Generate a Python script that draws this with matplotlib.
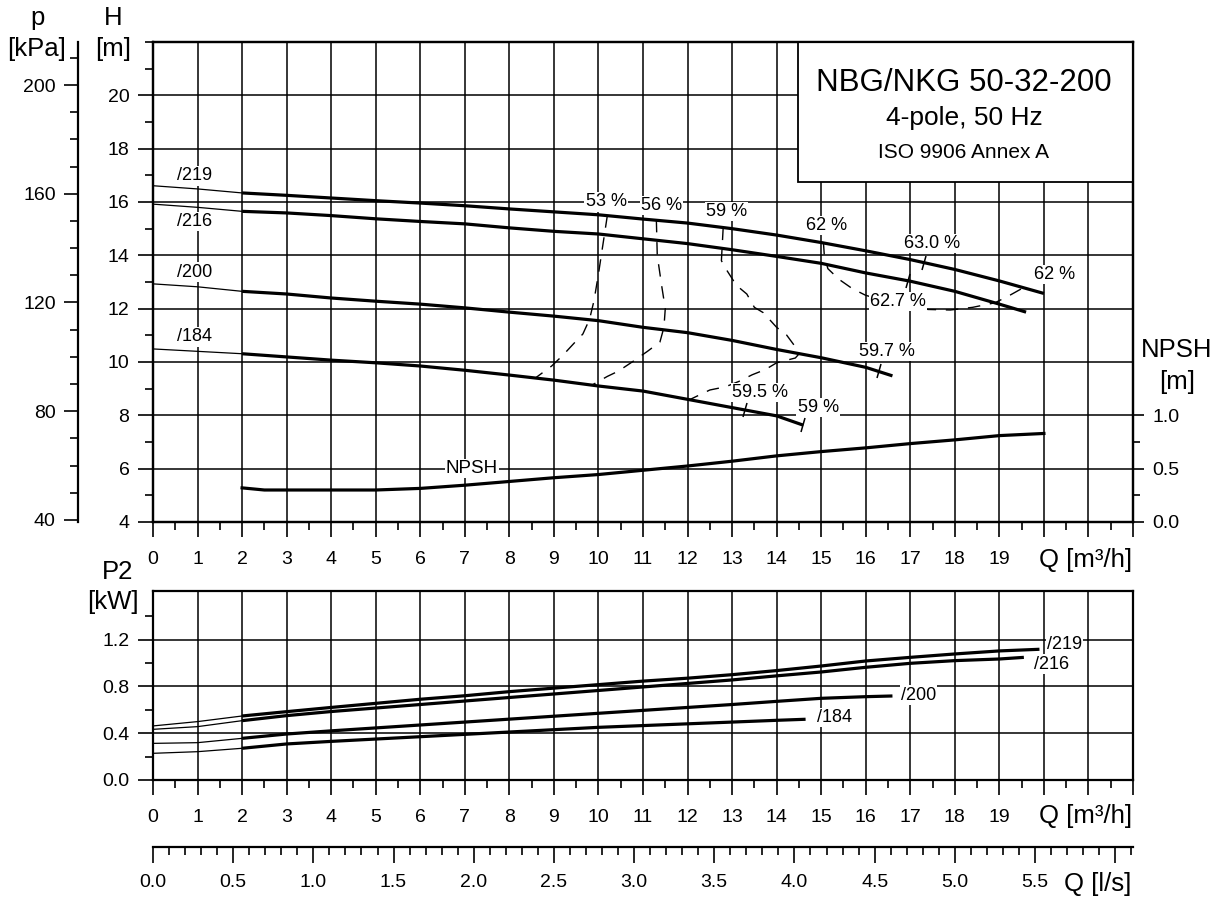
import numpy as np
import matplotlib
matplotlib.use("Agg")
import matplotlib.pyplot as plt
from matplotlib.ticker import FixedLocator, MultipleLocator, FuncFormatter, NullLocator
from matplotlib.patches import Rectangle
from matplotlib.markers import MarkerStyle
from matplotlib.transforms import Affine2D

plt.rcParams['font.family'] = ['Liberation Sans', 'DejaVu Sans']

# ---------------- data ----------------
# Head curves H [m] vs flow Q [m³/h] for the four impeller diameters
q_219 = [0, 1, 2, 3, 4, 5, 6, 7, 8, 9, 10, 11, 12, 13, 14, 15, 16, 17, 18, 19, 20]
h_219 = [16.61, 16.49, 16.34, 16.25, 16.15, 16.05, 15.96, 15.86, 15.74, 15.63, 15.52,
         15.36, 15.21, 15.0, 14.76, 14.48, 14.17, 13.84, 13.47, 13.04, 12.57]
q_216 = [0, 1, 2, 3, 4, 5, 6, 7, 8, 9, 10, 11, 12, 13, 14, 15, 16, 17, 18, 19, 19.6]
h_216 = [15.92, 15.8, 15.65, 15.59, 15.49, 15.37, 15.27, 15.18, 15.03, 14.9, 14.8,
         14.62, 14.44, 14.21, 13.96, 13.7, 13.34, 13.03, 12.65, 12.17, 11.87]
q_200 = [0, 1, 2, 3, 4, 5, 6, 7, 8, 9, 10, 11, 12, 13, 14, 15, 16, 16.6]
h_200 = [12.93, 12.82, 12.65, 12.55, 12.4, 12.28, 12.17, 12.03, 11.87, 11.72, 11.55,
         11.3, 11.1, 10.81, 10.47, 10.16, 9.8, 9.48]
q_184 = [0, 1, 2, 3, 4, 5, 6, 7, 8, 9, 10, 11, 12, 13, 14, 14.6]
h_184 = [10.49, 10.4, 10.31, 10.19, 10.07, 9.97, 9.85, 9.69, 9.51, 9.32, 9.1,
         8.91, 8.6, 8.29, 7.98, 7.63]
head_labels = ['/219', '/216', '/200', '/184']

# NPSH [m]
q_npsh = [2, 2.5, 3, 4, 5, 6, 7, 8, 9, 10, 11, 12, 13, 14, 15, 16, 17, 18, 19, 20]
npsh = [0.32, 0.30, 0.30, 0.30, 0.30, 0.315, 0.345, 0.38, 0.415, 0.445, 0.485,
        0.525, 0.57, 0.62, 0.66, 0.695, 0.735, 0.77, 0.81, 0.83]

# Shaft power P2 [kW]
pq_219 = [0, 1, 2, 3, 4, 5, 6, 7, 8, 9, 10, 11, 12, 13, 14, 15, 16, 17, 18, 19, 19.9]
p_219 = [0.462, 0.499, 0.547, 0.584, 0.62, 0.655, 0.69, 0.72, 0.755, 0.785, 0.815,
         0.845, 0.87, 0.9, 0.935, 0.974, 1.017, 1.048, 1.077, 1.103, 1.117]
pq_216 = [0, 1, 2, 3, 4, 5, 6, 7, 8, 9, 10, 11, 12, 13, 14, 15, 16, 17, 18, 19, 19.55]
p_216 = [0.433, 0.456, 0.507, 0.55, 0.585, 0.615, 0.645, 0.675, 0.705, 0.735, 0.765,
         0.795, 0.825, 0.855, 0.89, 0.923, 0.963, 0.997, 1.02, 1.034, 1.048]
pq_200 = [0, 1, 2, 3, 4, 5, 6, 7, 8, 9, 10, 11, 12, 13, 14, 15, 16, 16.6]
p_200 = [0.313, 0.319, 0.356, 0.393, 0.42, 0.445, 0.47, 0.495, 0.52, 0.545, 0.57,
         0.595, 0.62, 0.645, 0.672, 0.698, 0.712, 0.718]
pq_184 = [0, 1, 2, 3, 4, 5, 6, 7, 8, 9, 10, 11, 12, 13, 14, 14.65]
p_184 = [0.228, 0.242, 0.271, 0.308, 0.33, 0.35, 0.37, 0.39, 0.41, 0.43, 0.45,
         0.465, 0.48, 0.495, 0.51, 0.519]

# Iso-efficiency lines (Q, H)
eta53_q = [10.2, 10.1, 10.0, 9.9, 9.8, 9.65, 9.45, 9.2, 8.95, 8.6]
eta53_h = [15.5, 14.4, 13.3, 12.3, 11.6, 11.05, 10.7, 10.25, 9.85, 9.42]
eta56_q = [11.3, 11.32, 11.42, 11.5, 11.47, 11.38, 11.1, 10.8, 10.45, 10.2, 9.85]
eta56_h = [15.33, 14.0, 12.85, 12.0, 11.3, 10.75, 10.4, 10.05, 9.66, 9.46, 9.13]
eta59_q = [12.8, 12.76, 12.85, 13.1, 13.33, 13.5, 13.7, 14.0, 14.22, 14.45, 14.5,
           14.42, 14.0, 13.75, 13.45, 13.15, 12.85, 12.5, 12.05]
eta59_h = [15.04, 13.8, 13.52, 12.87, 12.55, 12.05, 11.85, 11.3, 11.02, 10.5, 10.3,
           10.15, 9.97, 9.72, 9.52, 9.27, 9.07, 8.95, 8.59]
eta62_q = [15.05, 15.07, 15.15, 15.4, 15.7, 16.0, 16.6, 17.4, 17.9, 18.4, 18.9, 19.2, 19.5]
eta62_h = [14.5, 14.0, 13.5, 13.1, 12.75, 12.5, 12.22, 11.97, 11.95, 12.05, 12.22, 12.47, 12.75]

# Efficiency marks on the curves
mark_q = [17.3, 16.95, 16.3, 13.3, 14.6]
mark_h = [13.73, 13.05, 9.65, 8.2, 7.63]

# Efficiency labels
eta_text = ['53 %', '56 %', '59 %', '62 %', '63.0 %', '62 %', '62.7 %', '59.7 %', '59.5 %', '59 %']
eta_text_q = [10.17, 11.42, 12.88, 15.12, 17.49, 20.25, 16.72, 16.48, 13.63, 14.93]
eta_text_h = [16.0, 15.86, 15.64, 15.11, 14.44, 13.28, 12.27, 10.39, 8.86, 8.3]

# ---------------- figure ----------------
W, HP = 1223, 902
fig = plt.figure(figsize=(W / 100, HP / 100), dpi=100)


def fx(px):
    return px / W


def fy(py):
    return 1 - py / HP


L, R = 153, 1133
TICK_FS = 14
LABEL_FS = 13
AXLAB_FS = 18.5
SPINE_LW = 1.6
GRID_LW = 1.1
THICK = 2.3
THIN = 0.9

Q_MAX = 22.0


def style_axes(ax):
    for s in ax.spines.values():
        s.set_linewidth(SPINE_LW)
    ax.tick_params(which='major', direction='out', length=11, width=1.2,
                   labelsize=TICK_FS, pad=4)
    ax.tick_params(which='minor', direction='out', length=5.5, width=1.2)


def q_formatter(v, pos):
    return '%d' % round(v) if v <= 19.01 else ''


# ---- head panel ----
ax = fig.add_axes([fx(L), fy(522), fx(R) - fx(L), fy(42) - fy(522)])
ax.set_xlim(0, Q_MAX)
ax.set_ylim(4, 22)
style_axes(ax)
ax.xaxis.set_major_locator(FixedLocator(np.arange(0, 23, 1)))
ax.xaxis.set_minor_locator(MultipleLocator(0.5))
ax.xaxis.set_major_formatter(FuncFormatter(q_formatter))
ax.yaxis.set_major_locator(FixedLocator(np.arange(4, 22, 2)))
ax.yaxis.set_minor_locator(MultipleLocator(1))
ax.yaxis.set_major_formatter(FuncFormatter(lambda v, p: '%d' % v))
ax.tick_params(axis='x', which='major', pad=10)
ax.tick_params(axis='y', which='major', pad=6)
for q in range(1, 22):
    ax.axvline(q, color='black', lw=GRID_LW, zorder=1)
for h in range(6, 22, 2):
    ax.axhline(h, color='black', lw=GRID_LW, zorder=1)

for qs, hs, lab in zip([q_219, q_216, q_200, q_184], [h_219, h_216, h_200, h_184], head_labels):
    ax.plot(qs[:3], hs[:3], color='black', lw=THIN, zorder=4, solid_capstyle='butt')
    ax.plot(qs[2:], hs[2:], color='black', lw=THICK, zorder=4, solid_capstyle='butt')

head_lab_q = [0.94, 0.94, 0.94, 0.94]
head_lab_h = [16.98, 15.27, 13.36, 10.95]
for t, q, h in zip(head_labels, head_lab_q, head_lab_h):
    ax.text(q, h, t, fontsize=LABEL_FS, ha='center', va='center', zorder=6,
            bbox=dict(facecolor='white', edgecolor='none', pad=1.0))

dash = (0, (9, 7))
for qs, hs in [(eta53_q, eta53_h), (eta56_q, eta56_h), (eta59_q, eta59_h), (eta62_q, eta62_h)]:
    ax.plot(qs, hs, color='black', lw=1.0, linestyle=dash, zorder=3)

tick_marker = MarkerStyle('|', transform=Affine2D().rotate_deg(-15))
ax.plot(mark_q, mark_h, linestyle='none', marker=tick_marker, markersize=10,
        markeredgewidth=1.1, color='black', zorder=5)

for t, q, h in zip(eta_text, eta_text_q, eta_text_h):
    ax.text(q, h, t, fontsize=LABEL_FS, ha='center', va='center', zorder=6,
            bbox=dict(facecolor='white', edgecolor='none', pad=0.8))

# NPSH on its own scale (right side)
axn = ax.twinx()
axn.set_ylim(0, 4.5)
axn.plot(q_npsh, npsh, color='black', lw=THICK, zorder=4)
style_axes(axn)
axn.yaxis.set_major_locator(FixedLocator([0, 0.5, 1.0]))
axn.yaxis.set_minor_locator(FixedLocator([0.25, 0.75]))
axn.yaxis.set_major_formatter(FuncFormatter(lambda v, p: '%.1f' % v))
axn.tick_params(axis='y', which='major', length=8, pad=6)
axn.tick_params(axis='y', which='minor', length=5)
ax.text(7.16, 6.0, 'NPSH', fontsize=13.5, ha='center', va='center', zorder=6,
        bbox=dict(facecolor='white', edgecolor='none', pad=0.8))

# title box
ax.add_patch(Rectangle((645 / 980, 340 / 480), 335 / 980, 140 / 480, transform=ax.transAxes,
                       facecolor='white', edgecolor='black', lw=1.3, zorder=7))
fig.text(fx(964), fy(83), 'NBG/NKG 50-32-200', fontsize=22.5, ha='center', va='center', zorder=10)
fig.text(fx(964), fy(118), '4-pole, 50 Hz', fontsize=19, ha='center', va='center', zorder=10)
fig.text(fx(964), fy(152), 'ISO 9906 Annex A', fontsize=15, ha='center', va='center', zorder=10)

# pressure scale
axp = fig.add_axes([fx(78), fy(522), 0.0001, fy(42) - fy(522)])
axp.set_ylim(4 * 9.81, 22 * 9.81)
for s in ['top', 'right', 'bottom']:
    axp.spines[s].set_visible(False)
axp.spines['left'].set_linewidth(SPINE_LW)
axp.xaxis.set_major_locator(NullLocator())
axp.yaxis.set_major_locator(FixedLocator([40, 80, 120, 160, 200]))
axp.yaxis.set_minor_locator(MultipleLocator(10))
axp.tick_params(axis='y', which='major', direction='out', length=10, width=1.2,
                labelsize=TICK_FS, pad=6)
axp.tick_params(axis='y', which='minor', direction='out', length=6, width=1.2)
axp.patch.set_visible(False)

fig.text(fx(38), fy(18), 'p', fontsize=AXLAB_FS, ha='center', va='center')
fig.text(fx(37), fy(49), '[kPa]', fontsize=AXLAB_FS, ha='center', va='center')
fig.text(fx(113), fy(18), 'H', fontsize=AXLAB_FS, ha='center', va='center')
fig.text(fx(113), fy(49), '[m]', fontsize=AXLAB_FS, ha='center', va='center')
fig.text(fx(1177), fy(350), 'NPSH', fontsize=AXLAB_FS, ha='center', va='center')
fig.text(fx(1177), fy(382), '[m]', fontsize=AXLAB_FS, ha='center', va='center')
fig.text(fx(1086), fy(560), 'Q [m³/h]', fontsize=AXLAB_FS, ha='center', va='center')

# ---- power panel ----
ax2 = fig.add_axes([fx(L), fy(780), fx(R) - fx(L), fy(591) - fy(780)])
ax2.set_xlim(0, Q_MAX)
ax2.set_ylim(0, 1.615)
style_axes(ax2)
ax2.xaxis.set_major_locator(FixedLocator(np.arange(0, 23, 1)))
ax2.xaxis.set_minor_locator(MultipleLocator(0.5))
ax2.xaxis.set_major_formatter(FuncFormatter(q_formatter))
ax2.yaxis.set_major_locator(FixedLocator([0, 0.4, 0.8, 1.2]))
ax2.yaxis.set_minor_locator(FixedLocator([0.2, 0.6, 1.0, 1.4]))
ax2.yaxis.set_major_formatter(FuncFormatter(lambda v, p: '%.1f' % v))
ax2.tick_params(axis='x', which='major', pad=10)
ax2.tick_params(axis='y', which='major', pad=6)
for q in range(1, 22):
    ax2.axvline(q, color='black', lw=GRID_LW, zorder=1)
for p in [0.4, 0.8, 1.2]:
    ax2.axhline(p, color='black', lw=GRID_LW, zorder=1)

for qs, ps in zip([pq_219, pq_216, pq_200, pq_184], [p_219, p_216, p_200, p_184]):
    ax2.plot(qs[:3], ps[:3], color='black', lw=THIN, zorder=4, solid_capstyle='butt')
    ax2.plot(qs[2:], ps[2:], color='black', lw=THICK, zorder=4, solid_capstyle='butt')

p_lab_q = [20.47, 20.18, 17.19, 15.29]
p_lab_p = [1.162, 0.991, 0.726, 0.536]
for t, q, p in zip(head_labels, p_lab_q, p_lab_p):
    ax2.text(q, p, t, fontsize=LABEL_FS, ha='center', va='center', zorder=6,
             bbox=dict(facecolor='white', edgecolor='none', pad=0.8))

fig.text(fx(118), fy(572), 'P2', fontsize=AXLAB_FS, ha='center', va='center')
fig.text(fx(113), fy(602), '[kW]', fontsize=AXLAB_FS, ha='center', va='center')
fig.text(fx(1086), fy(816), 'Q [m³/h]', fontsize=AXLAB_FS, ha='center', va='center')

# ---- flow scale in l/s ----
axl = fig.add_axes([fx(L), fy(847), fx(R) - fx(L), 0.0001])
axl.set_xlim(0, Q_MAX / 3.6)
for s in ['top', 'right', 'left']:
    axl.spines[s].set_visible(False)
axl.spines['bottom'].set_linewidth(SPINE_LW)
axl.yaxis.set_major_locator(NullLocator())
axl.xaxis.set_major_locator(MultipleLocator(0.5))
axl.xaxis.set_minor_locator(MultipleLocator(0.1))
axl.xaxis.set_major_formatter(FuncFormatter(lambda v, p: '%.1f' % v if v <= 5.51 else ''))
axl.tick_params(axis='x', which='major', direction='out', length=11.5, width=1.2,
                labelsize=TICK_FS, pad=8)
axl.tick_params(axis='x', which='minor', direction='out', length=6, width=1.2)
axl.patch.set_visible(False)
fig.text(fx(1098), fy(884), 'Q [l/s]', fontsize=AXLAB_FS, ha='center', va='center')

fig.savefig('out.png', dpi=100)
